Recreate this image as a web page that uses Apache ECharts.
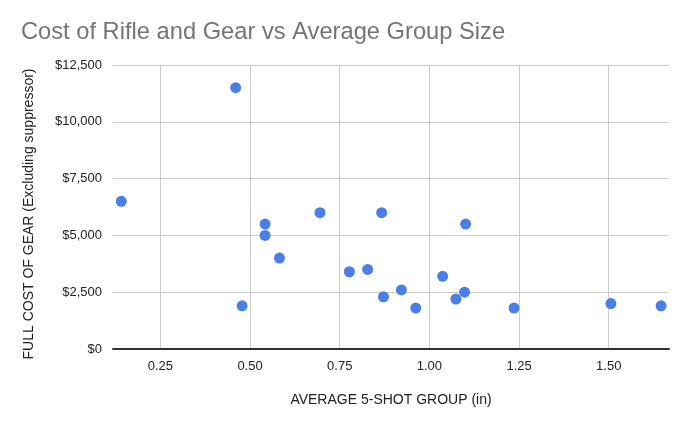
<!DOCTYPE html>
<html>
<head>
<meta charset="utf-8">
<script src="https://cdn.jsdelivr.net/npm/echarts@6/dist/echarts.min.js"></script>
<style>
    html, body { margin: 0; padding: 0; background: #fff; }
    #chart { width: 690px; height: 426px; }
</style>
</head>
<body>
<div id="chart"></div>
<script>
// group size (in) and gear cost ($)
const groupSize = [0.141, 0.460, 0.478, 0.542, 0.542, 0.582, 0.695, 0.777, 0.828, 0.867,
    0.872, 0.922, 0.962, 1.037, 1.074, 1.098, 1.101, 1.236, 1.506, 1.646];
const gearCost = [6500, 11500, 1900, 5500, 5000, 4000, 6000, 3400, 3500, 6000,
    2300, 2600, 1800, 3200, 2200, 2500, 5500, 1800, 2000, 1900];
const xTicks = [0.25, 0.5, 0.75, 1.0, 1.25, 1.5];

const points = groupSize.map((x, i) => [x, gearCost[i]]);
const font = 'Arial, "Liberation Sans", sans-serif';

const myChart = echarts.init(document.getElementById('chart'));
myChart.setOption({
    animation: false,
    title: {
        text: 'Cost of Rifle and Gear vs Average Group Size',
        left: 16,
        top: 15,
        textStyle: { fontFamily: font, fontSize: 23.7, fontWeight: 'normal', color: '#757575' }
    },
    grid: { left: 113, right: 21, top: 65, bottom: 77 },
    xAxis: {
        type: 'value',
        min: 0.118,
        max: 1.668,
        name: 'AVERAGE 5-SHOT GROUP (in)',
        nameLocation: 'middle',
        nameGap: 44,
        nameTextStyle: { fontFamily: font, fontSize: 14, color: '#222' },
        axisLine: { show: true, lineStyle: { color: '#333', width: 2 } },
        axisTick: { show: false, customValues: xTicks },
        axisLabel: {
            customValues: xTicks,
            margin: 11,
            fontFamily: font, fontSize: 13, color: '#222',
            formatter: v => v.toFixed(2)
        },
        splitLine: { show: true, lineStyle: { color: '#ccc', width: 1 } }
    },
    yAxis: {
        type: 'value',
        min: 0,
        max: 12500,
        interval: 2500,
        name: 'FULL COST OF GEAR (Excluding suppressor)',
        nameLocation: 'middle',
        nameGap: 77,
        nameTextStyle: { fontFamily: font, fontSize: 14, color: '#222', padding: [0, 14, 0, 0] },
        axisLine: { show: false },
        axisTick: { show: false },
        axisLabel: {
            margin: 11,
            fontFamily: font, fontSize: 13, color: '#222',
            formatter: v => '$' + v.toLocaleString('en-US')
        },
        splitLine: { show: true, lineStyle: { color: '#ccc', width: 1 } }
    },
    series: [{
        type: 'scatter',
        data: points,
        symbolSize: 11,
        itemStyle: { color: '#4a7fe8', opacity: 1 }
    }]
});
</script>
</body>
</html>
